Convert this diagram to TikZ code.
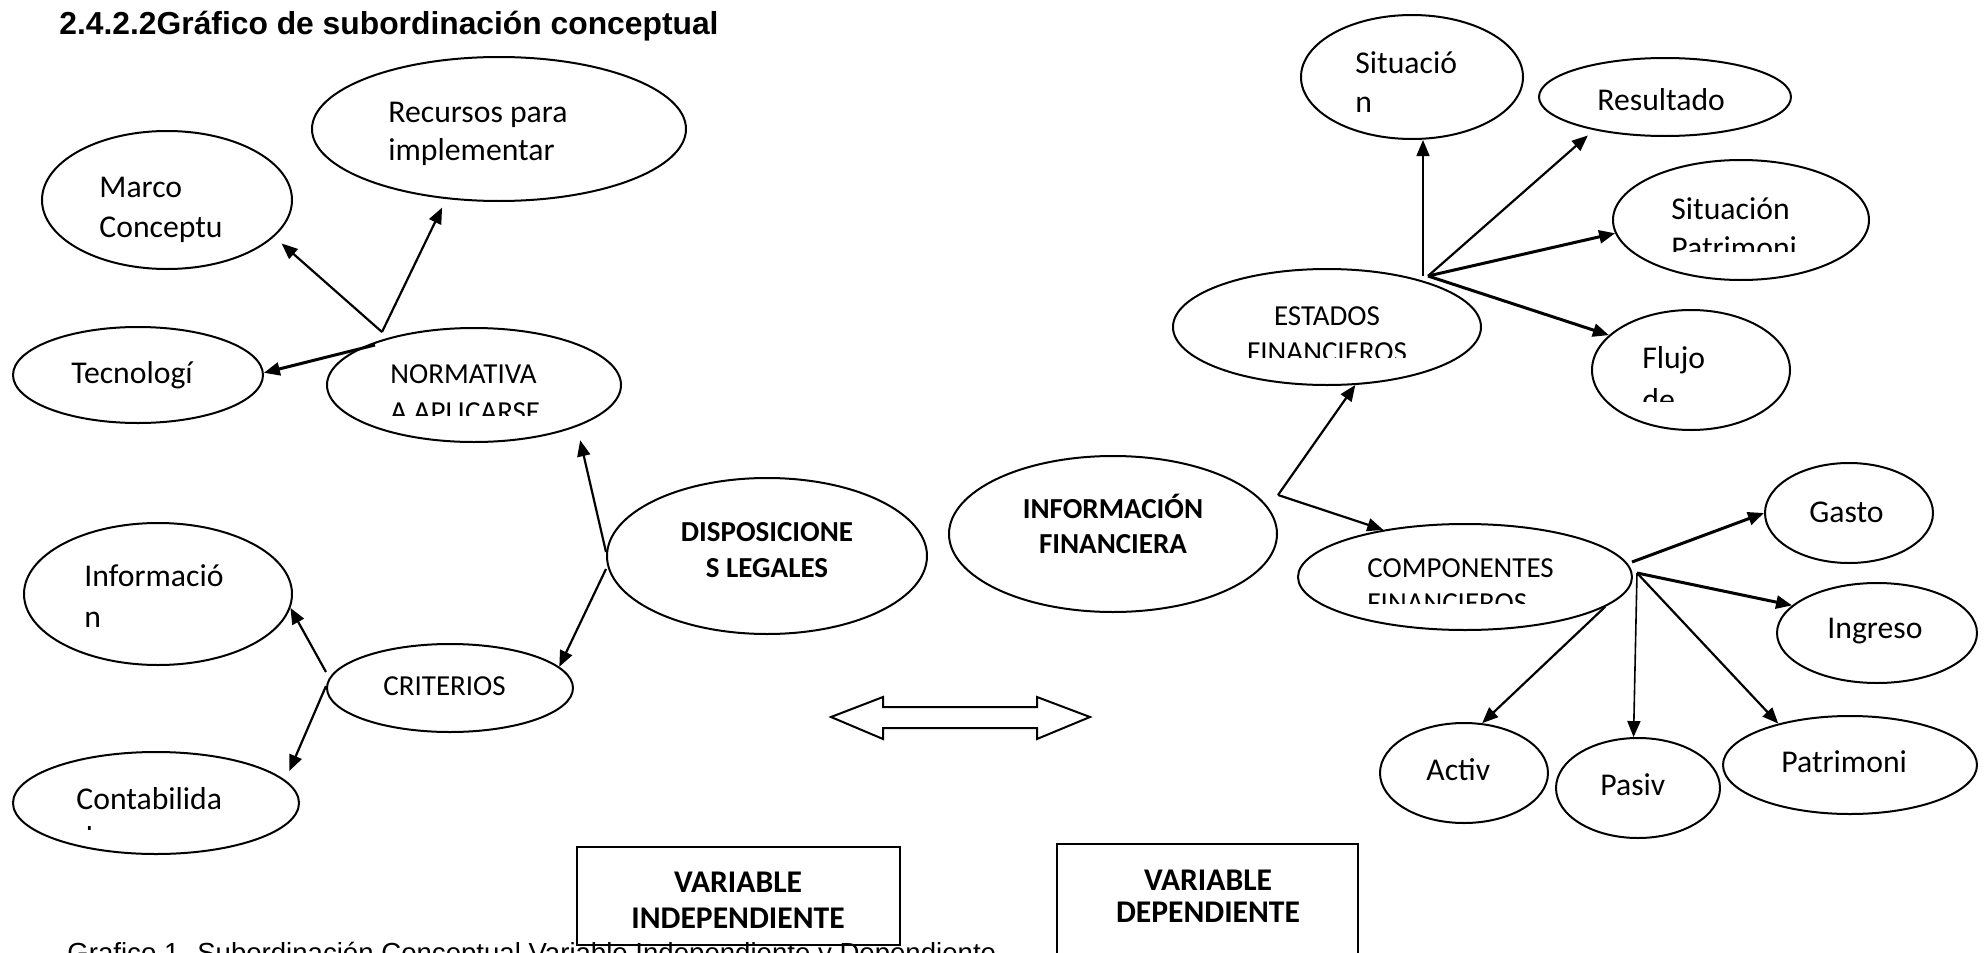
\documentclass[tikz,border=0pt]{standalone}
\usepackage{fontspec}
\setmainfont{Carlito}
\newfontfamily\arialf{Liberation Sans}
\usetikzlibrary{shapes.geometric,arrows.meta}
\begin{document}
\begin{tikzpicture}[x=0.5pt,y=-0.5pt,
  ell/.style={draw, line width=1pt, ellipse, inner sep=0pt},
  boxst/.style={draw, line width=1pt, rectangle, inner sep=0pt},
  arr/.style={line width=1.1pt, -{Triangle[length=8pt,width=6.5pt]}},
  arrthick/.style={line width=1.5pt, -{Triangle[length=8pt,width=6.5pt]}},
  arrthin/.style={line width=0.8pt, -{Triangle[length=8pt,width=6.5pt]}},
  tA/.style={anchor=base west, inner sep=0pt, font=\fontsize{15.85}{19}\selectfont},
  tB/.style={anchor=base west, inner sep=0pt, font=\fontsize{14.5}{17}\selectfont},
  tBc/.style={anchor=base, inner sep=0pt, font=\fontsize{14.5}{17}\selectfont},
  tC/.style={anchor=base, inner sep=0pt, font=\bfseries\fontsize{14.5}{17}\selectfont},
  tD/.style={anchor=base, inner sep=0pt, font=\bfseries\fontsize{15.8}{19}\selectfont},
]
\useasboundingbox (0,0) rectangle (1988,953);

% title
\node[anchor=base west, inner sep=0pt, font=\arialf\bfseries\fontsize{15.9}{19}\selectfont] (title) at (59,34) {2.4.2.2Gráfico de subordinación conceptual};

% ellipses, left
\node[ell, minimum width=187pt, minimum height=72pt] (rec) at (499,129) {};
\node[ell, minimum width=125pt, minimum height=69pt] (marco) at (167,200) {};
\node[ell, minimum width=125pt, minimum height=48pt] (tec) at (138,375) {};
\node[ell, minimum width=147pt, minimum height=57pt] (norm) at (474,385) {};
\node[ell, minimum width=160pt, minimum height=78pt] (disp) at (767,556) {};
\node[ell, minimum width=123pt, minimum height=44pt] (crit) at (450,688) {};
\node[ell, minimum width=134pt, minimum height=71pt] (info) at (158,594) {};
\node[ell, minimum width=143pt, minimum height=51pt] (conta) at (156,803) {};
% ellipses, right
\node[ell, minimum width=164pt, minimum height=78pt] (infofin) at (1113,534) {};
\node[ell, minimum width=111pt, minimum height=62pt] (sit) at (1412,77) {};
\node[ell, minimum width=126pt, minimum height=39pt] (res) at (1665,97) {};
\node[ell, minimum width=128pt, minimum height=60pt] (sitpat) at (1741,220) {};
\node[ell, minimum width=154pt, minimum height=58pt] (est) at (1327,327) {};
\node[ell, minimum width=99pt, minimum height=60pt] (flujo) at (1691,370) {};
\node[ell, minimum width=167pt, minimum height=53pt] (comp) at (1465,577) {};
\node[ell, minimum width=84pt, minimum height=50pt] (gasto) at (1849,513) {};
\node[ell, minimum width=100pt, minimum height=50pt] (ingreso) at (1877,633) {};
\node[ell, minimum width=84pt, minimum height=50pt] (activ) at (1464,773) {};
\node[ell, minimum width=82pt, minimum height=50pt] (pasiv) at (1638,788) {};
\node[ell, minimum width=127pt, minimum height=49pt] (patri) at (1850,765) {};

% texts
\node[tA] (recA) at (388,122) {Recursos para};
\node[tA] (recB) at (388,160) {implementar};
\node[tA] (marA) at (99,197) {Marco};
\node[tA] (marB) at (99,237) {Conceptu};
\node[tA] (tecA) at (71,383) {Tecnologí};
\node[tB] (norA) at (390,383) {NORMATIVA};
\begin{scope}
  \clip (320,395) rectangle (640,415);
  \node[tB] (norB) at (390,421) {A APLICARSE};
\end{scope}
\node[tC] (disA) at (767,541) {DISPOSICIONE};
\node[tC] (disB) at (767,577) {S LEGALES};
\node[tB] (criA) at (383,695) {CRITERIOS};
\node[tA] (infA) at (84,586) {Informació};
\node[tA] (infB) at (84,627) {n};
\node[tA] (conA) at (76,809) {Contabilida};
\begin{scope}
  \clip (60,815) rectangle (280,829);
  \node[tA] (conB) at (76,848) {d};
\end{scope}
\node[tC] (ifA) at (1113,518) {INFORMACIÓN};
\node[tC] (ifB) at (1113,553) {FINANCIERA};
\node[tA] (sitA) at (1355,73) {Situació};
\node[tA] (sitB) at (1355,112) {n};
\node[tA] (resA) at (1597,110) {Resultado};
\node[tA] (spA) at (1671,219) {Situación};
\begin{scope}
  \clip (1620,230) rectangle (1860,251);
  \node[tA] (spB) at (1671,258) {Patrimoni};
\end{scope}
\node[tBc] (estA) at (1327,325) {ESTADOS};
\begin{scope}
  \clip (1190,335) rectangle (1470,357);
  \node[tBc] (estB) at (1327,361) {FINANCIEROS};
\end{scope}
\node[tA] (fluA) at (1642,368) {Flujo};
\begin{scope}
  \clip (1600,380) rectangle (1780,401);
  \node[tA] (fluB) at (1642,410) {de};
\end{scope}
\node[tB] (comA) at (1367,577) {COMPONENTES};
\begin{scope}
  \clip (1310,585) rectangle (1620,603);
  \node[tB] (comB) at (1367,612) {FINANCIEROS};
\end{scope}
\node[tA] (gasA) at (1809,522) {Gasto};
\node[tA] (ingA) at (1827,638) {Ingreso};
\node[tA] (actA) at (1426,780) {Activ};
\node[tA] (pasA) at (1600,795) {Pasiv};
\node[tA] (patA) at (1781,772) {Patrimoni};

% connector start points
\coordinate (nA) at (382,332);
\coordinate (nB) at (375,345);
\coordinate (dA) at (606,552);
\coordinate (dB) at (606,569);
\coordinate (cA) at (326,672);
\coordinate (cB) at (326,686);
\coordinate (iA) at (1278,495);
\coordinate (eA) at (1423,276);
\coordinate (eB) at (1428,276);
\coordinate (kA) at (1632,562);
\coordinate (kB) at (1637,573);

% connectors, left
\draw[arr, shorten >=5pt] (nA) -- (marco.-19);
\draw[arr, shorten >=4.75pt] (nA) -- (rec.233);
\draw[arrthick] (nB) -- (tec.1);
\draw[arr, shorten >=7pt] (dA) -- (norm.-22);
\draw[arr] (dB) -- (crit.11);
\draw[arr] (cA) -- (info.-6);
\draw[arr, shorten >=5pt] (cB) -- (conta.10);
% connectors, right
\draw[arr] (iA) -- (est.-64);
\draw[arr] (iA) -- (comp.150);
\draw[arrthin] (eA) -- (eA |- sit.south);
\draw[arr, shorten >=4pt] (eB) -- (res.205);
\draw[arrthick] (eB) -- (sitpat.186);
\draw[arrthick] (eB) -- (flujo.157);
\draw[arrthick] (kA) -- (gasto.180);
\draw[arrthick] (kB) -- (ingreso.162);
\draw[arrthin] (kB) -- (pasiv.95);
\draw[arr] (kB) -- (patri.150);
\draw[arr] (comp.-12) -- (activ.70);

% double arrow
\draw[line width=1pt, line join=miter] (831,717) -- (883,697) -- (883,707) -- (1037,707) -- (1037,697) -- (1090,717) -- (1037,739) -- (1037,728) -- (883,728) -- (883,739) -- cycle;

% variable boxes
\node[boxst, minimum width=161.5pt, minimum height=49pt] (vind) at (738.5,896) {};
\node[tD] (viA) at (738,892) {VARIABLE};
\node[tD] (viB) at (738,928) {INDEPENDIENTE};
\begin{scope}
  \clip (0,0) rectangle (1988,953);
  \node[boxst, minimum width=150.5pt, minimum height=78pt] (vdep) at (1207.5,922) {};
  \node[anchor=base west, inner sep=0pt, font=\arialf\fontsize{13.8}{16}\selectfont] (cap) at (67,962) {Grafico 1. Subordinación Conceptual Variable Independiente y Dependiente};
\end{scope}
\node[tD] (vdA) at (1208,890) {VARIABLE};
\node[tD] (vdB) at (1208,922) {DEPENDIENTE};
\end{tikzpicture}
\end{document}
